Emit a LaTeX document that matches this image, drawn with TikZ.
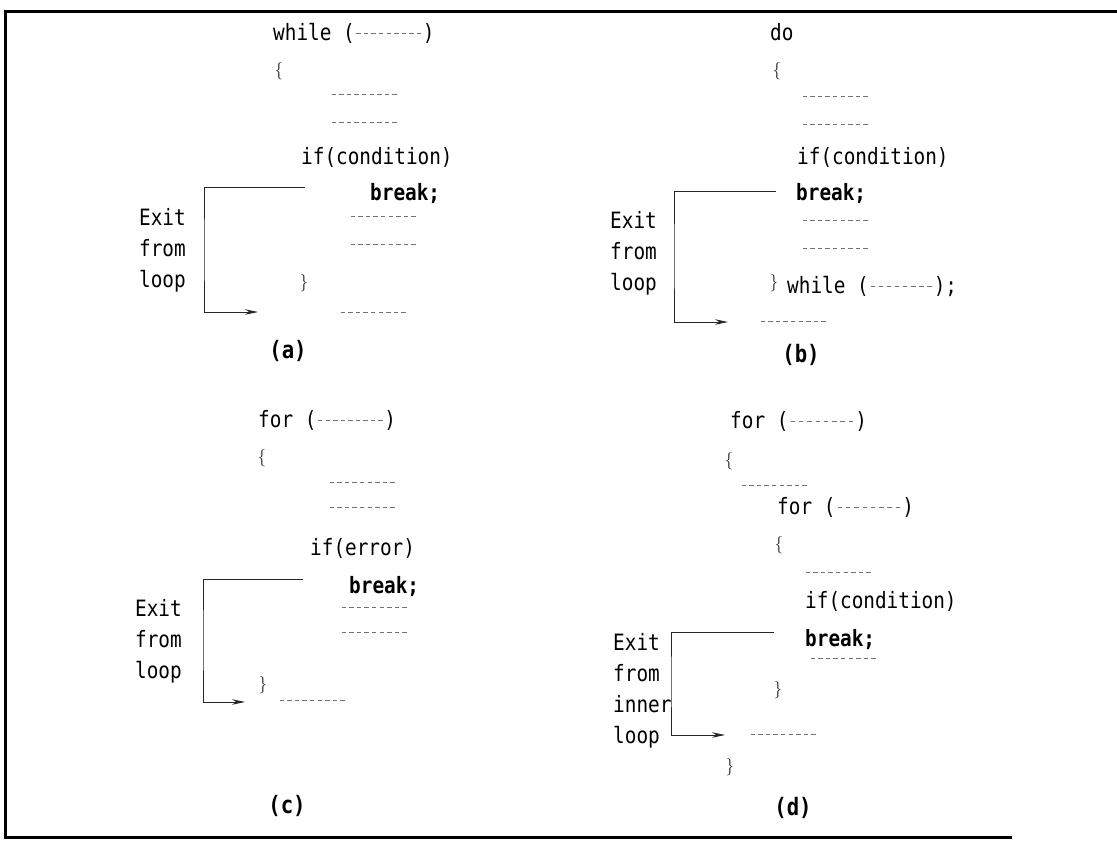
\documentclass[tikz,border=0pt]{standalone}
\usepackage{fontspec}
\usetikzlibrary{arrows.meta}
\newfontfamily\codefont[FakeStretch=0.86]{DejaVu Sans Mono}
% a row of short grey dashes standing for omitted code
\newcommand\phfill[1]{{\color{black!55}\xleaders\hbox to 7.5pt{\hss\rule[6.5pt]{4.4pt}{0.8pt}\hss}\hskip#1\relax}}

\begin{document}
\begin{tikzpicture}[x=1pt,y=-1pt,
  code/.style={font=\codefont\fontsize{22.5}{31}\selectfont, inner sep=0pt, anchor=base west},
  kw/.style={code, font=\codefont\bfseries\fontsize{22.5}{31}\selectfont},
  brace/.style={font=\fontsize{19}{19}\selectfont, text=black!85, inner sep=0pt},
  caption/.style={font=\codefont\bfseries\fontsize{24}{24}\selectfont, inner sep=0pt},
  exitline/.style={line width=0.9pt, draw=black!85, -{Stealth[length=13pt,width=5.5pt]}}]
\useasboundingbox (0,0) rectangle (1117,841);

% frame
\draw[line width=3pt] (1117,11) -- (5,11) -- (5,837) -- (1012,837);

% ---------- (a) while loop ----------
\node[code] (a1) at (273,40) {while (\phfill{68pt})};
\node[brace] (aopen) at (279,71) {$\{$};
\node[code] (a2) at (330,101) {\phfill{68pt}};
\node[code] (a3) at (330,129) {\phfill{68pt}};
\node[code] (a4) at (301,164) {if(condition)};
\node[kw] (a5) at (370,200) {break;};
\node[code] (a6) at (349,223) {\phfill{68pt}};
\node[code] (a7) at (349,251) {\phfill{68pt}};
\node[brace] (aclose) at (304,283) {$\}$};
\node[code] (a8) at (339,319) {\phfill{68pt}};
\foreach \w [count=\i] in {Exit,from,loop}
  \node[code] (ax\i) at (139,{225+31*(\i-1)}) {\w};
\coordinate (as) at (305,187);
\coordinate (ae) at (258,312);
\draw[exitline] (as) -| (204,250) |- (ae);
\node[caption] (acap) at (288,351) {(a)};

% ---------- (b) do-while loop ----------
\node[code] (b1) at (770,40) {do};
\node[brace] (bopen) at (777,71) {$\{$};
\node[code] (b2) at (801,103) {\phfill{68pt}};
\node[code] (b3) at (801,131) {\phfill{68pt}};
\node[code] (b4) at (797,164) {if(condition)};
\node[kw] (b5) at (796,200) {break;};
\node[code] (b6) at (801,227) {\phfill{68pt}};
\node[code] (b7) at (801,255) {\phfill{68pt}};
\node[brace] (bclose) at (774,283) {$\}$};
\node[code] (b8) at (787,293) {while (\phfill{65pt});};
\node[code] (b9) at (759,328) {\phfill{68pt}};
\foreach \w [count=\i] in {Exit,from,loop}
  \node[code] (bx\i) at (610,{228+31*(\i-1)}) {\w};
\coordinate (bs) at (776,191);
\coordinate (be) at (728,322);
\draw[exitline] (bs) -| (674,256) |- (be);
\node[caption] (bcap) at (801,355) {(b)};

% ---------- (c) for loop ----------
\node[code] (c1) at (258,427) {for (\phfill{68pt})};
\node[brace] (copen) at (262,458) {$\{$};
\node[code] (c2) at (328,489) {\phfill{68pt}};
\node[code] (c3) at (328,514) {\phfill{68pt}};
\node[code] (c4) at (310,555) {if(error)};
\node[kw] (c5) at (349,593) {break;};
\node[code] (c6) at (340,614) {\phfill{68pt}};
\node[code] (c7) at (340,639) {\phfill{68pt}};
\node[brace] (cclose) at (263,685) {$\}$};
\node[code] (c8) at (278,707) {\phfill{68pt}};
\foreach \w [count=\i] in {Exit,from,loop}
  \node[code] (cx\i) at (135,{616+31*(\i-1)}) {\w};
\coordinate (cs) at (303,579);
\coordinate (ce) at (245,702);
\draw[exitline] (cs) -| (203,640) |- (ce);
\node[caption] (ccap) at (287,806) {(c)};

% ---------- (d) nested for loops ----------
\node[code] (d1) at (730,428) {for (\phfill{67pt})};
\node[brace] (dopen) at (729,461) {$\{$};
\node[code] (d2) at (740,492) {\phfill{68pt}};
\node[code] (d3) at (777,514) {for (\phfill{67pt})};
\node[brace] (dopen2) at (779,545) {$\{$};
\node[code] (d4) at (804,579) {\phfill{68pt}};
\node[code] (d5) at (805,608) {if(condition)};
\node[kw] (d6) at (805,646) {break;};
\node[code] (d7) at (809,665) {\phfill{68pt}};
\node[brace] (dclose2) at (778,690) {$\}$};
\node[code] (d8) at (749,741) {\phfill{68pt}};
\node[brace] (dclose) at (730,767) {$\}$};
\foreach \w [count=\i] in {Exit,from,inner,loop}
  \node[code] (dx\i) at (613,{650+31*(\i-1)}) {\w};
\coordinate (ds) at (774,632);
\coordinate (de) at (725,735);
\draw[exitline] (ds) -| (671,680) |- (de);
\node[caption] (dcap) at (793,808) {(d)};
\end{tikzpicture}
\end{document}
